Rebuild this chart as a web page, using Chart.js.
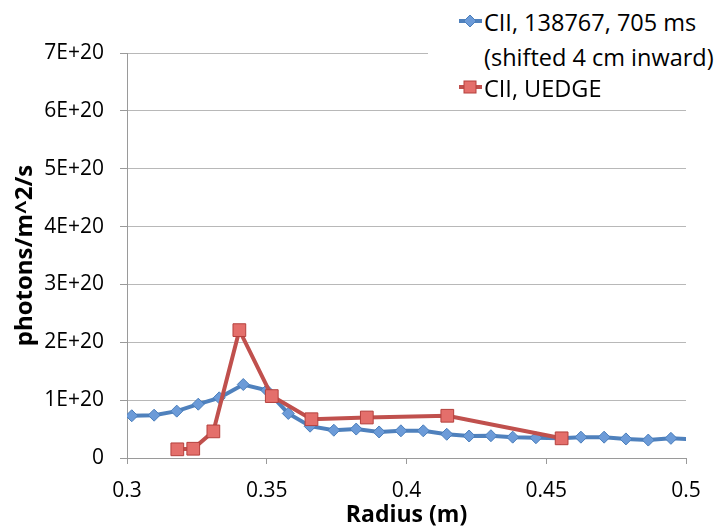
<!DOCTYPE html>
<html>
<head>
<meta charset="utf-8">
<script src="https://cdn.jsdelivr.net/npm/chart.js@4/dist/chart.umd.min.js"></script>
<style>
  body { margin: 0; background: #fff; }
  #wrap { position: relative; width: 723px; height: 529px; }
  #legend {
    position: absolute; left: 428px; top: 0; width: 295px; height: 102px;
    background: #fff; font-family: 'Open Sans', sans-serif; font-size: 23.5px; color: #000;
  }
  #legend .row { position: absolute; left: 56px; line-height: 32px; white-space: nowrap; }
  #legend svg { position: absolute; left: 28px; }
</style>
</head>
<body>
<div id="wrap">
  <canvas id="chart" width="723" height="529"></canvas>
  <div id="legend">
    <svg style="top:12px" width="30" height="20">
      <line x1="3" y1="9" x2="26" y2="9" stroke="#4f81bd" stroke-width="4"/>
      <polygon points="14,3 20,9 14,15 8,9" fill="#6c9bd8" stroke="#4a7ebb" stroke-width="1"/>
    </svg>
    <div class="row" style="top:6px">CII, 138767, 705 ms</div>
    <div class="row" style="top:41px">(shifted 4 cm inward)</div>
    <svg style="top:78px" width="30" height="20">
      <line x1="3" y1="9" x2="26" y2="9" stroke="#c0504d" stroke-width="4"/>
      <rect x="8" y="3" width="12" height="12" fill="#e46f6b" stroke="#b5403d" stroke-width="1"/>
    </svg>
    <div class="row" style="top:72px">CII, UEDGE</div>
  </div>
</div>
<script>
// Radius (m) / photons per m^2 per s
const measRadius = [0.3017, 0.3097, 0.3178, 0.3255, 0.3330, 0.3416, 0.3500, 0.3577, 0.3655,
  0.3740, 0.3820, 0.3902, 0.3980, 0.4060, 0.4144, 0.4224, 0.4302, 0.4380, 0.4463, 0.4550,
  0.4624, 0.4707, 0.4785, 0.4865, 0.4946, 0.5026];
const measPhotons = [0.73e20, 0.74e20, 0.81e20, 0.93e20, 1.04e20, 1.27e20, 1.17e20, 0.77e20, 0.55e20,
  0.48e20, 0.50e20, 0.45e20, 0.47e20, 0.47e20, 0.41e20, 0.38e20, 0.385e20, 0.36e20, 0.35e20, 0.34e20,
  0.36e20, 0.36e20, 0.33e20, 0.31e20, 0.34e20, 0.32e20];

const uedgeRadius = [0.3180, 0.3237, 0.3309, 0.3402, 0.3518, 0.3660, 0.3858, 0.4146, 0.4555];
const uedgePhotons = [0.15e20, 0.16e20, 0.46e20, 2.21e20, 1.07e20, 0.67e20, 0.70e20, 0.73e20, 0.34e20];

const seriesNames = ['CII, 138767, 705 ms (shifted 4 cm inward)', 'CII, UEDGE'];
const xTickLabels = ['0.3', '0.35', '0.4', '0.45', '0.5'];
const yTickLabels = ['0', '1E+20', '2E+20', '3E+20', '4E+20', '5E+20', '6E+20', '7E+20'];

const toPoints = (xs, ys) => xs.map((x, i) => ({ x, y: ys[i] }));

Chart.defaults.font.family = "'Open Sans', sans-serif";
Chart.defaults.color = '#000';

const GRID = '#b8b8b8';
const AXIS = '#9a9a9a';

new Chart(document.getElementById('chart'), {
  type: 'line',
  data: {
    datasets: [
      {
        label: seriesNames[0],
        data: toPoints(measRadius, measPhotons),
        borderColor: '#4f81bd',
        borderWidth: 4,
        pointStyle: 'rectRot',
        pointRadius: 6,
        pointBackgroundColor: '#6c9bd8',
        pointBorderColor: '#4a7ebb',
        pointBorderWidth: 1,
        tension: 0,
        clip: 0,
        order: 2
      },
      {
        label: seriesNames[1],
        data: toPoints(uedgeRadius, uedgePhotons),
        borderColor: '#c0504d',
        borderWidth: 4,
        pointStyle: 'rect',
        pointRadius: 9,
        pointBackgroundColor: '#e46f6b',
        pointBorderColor: '#b5403d',
        pointBorderWidth: 1,
        tension: 0,
        order: 1
      }
    ]
  },
  options: {
    responsive: false,
    animation: false,
    layout: { padding: { top: 53, right: 37, left: 0, bottom: 0 } },
    plugins: { legend: { display: false }, tooltip: { enabled: false } },
    scales: {
      x: {
        type: 'linear',
        min: 0.3,
        max: 0.5,
        afterFit: (s) => { s.height = 71; },
        afterBuildTicks: (s) => { s.ticks = xTickLabels.map(v => ({ value: Number(v) })); },
        ticks: {
          callback: (v, i) => xTickLabels[i],
          font: { size: 21 },
          padding: 14,
          maxRotation: 0
        },
        grid: { drawOnChartArea: false, drawTicks: true, tickLength: 6, color: AXIS },
        border: { display: true, color: AXIS, width: 1 },
        title: {
          display: true,
          text: 'Radius (m)',
          font: { size: 23, weight: 'bold' },
          padding: { top: 0, bottom: 0 }
        }
      },
      y: {
        min: 0,
        max: 7e20,
        afterFit: (s) => { s.width = 127; },
        afterBuildTicks: (s) => { s.ticks = yTickLabels.map((_, i) => ({ value: i * 1e20 })); },
        ticks: {
          callback: (v, i) => yTickLabels[i],
          font: { size: 21 },
          padding: 16
        },
        grid: { color: GRID, drawTicks: true, tickLength: 7, tickColor: AXIS },
        border: { display: true, color: AXIS, width: 1 },
        title: {
          display: true,
          text: 'photons/m^2/s',
          font: { size: 24, weight: 'bold' },
          padding: { top: 11, bottom: 0 }
        }
      }
    }
  }
});
</script>
</body>
</html>
